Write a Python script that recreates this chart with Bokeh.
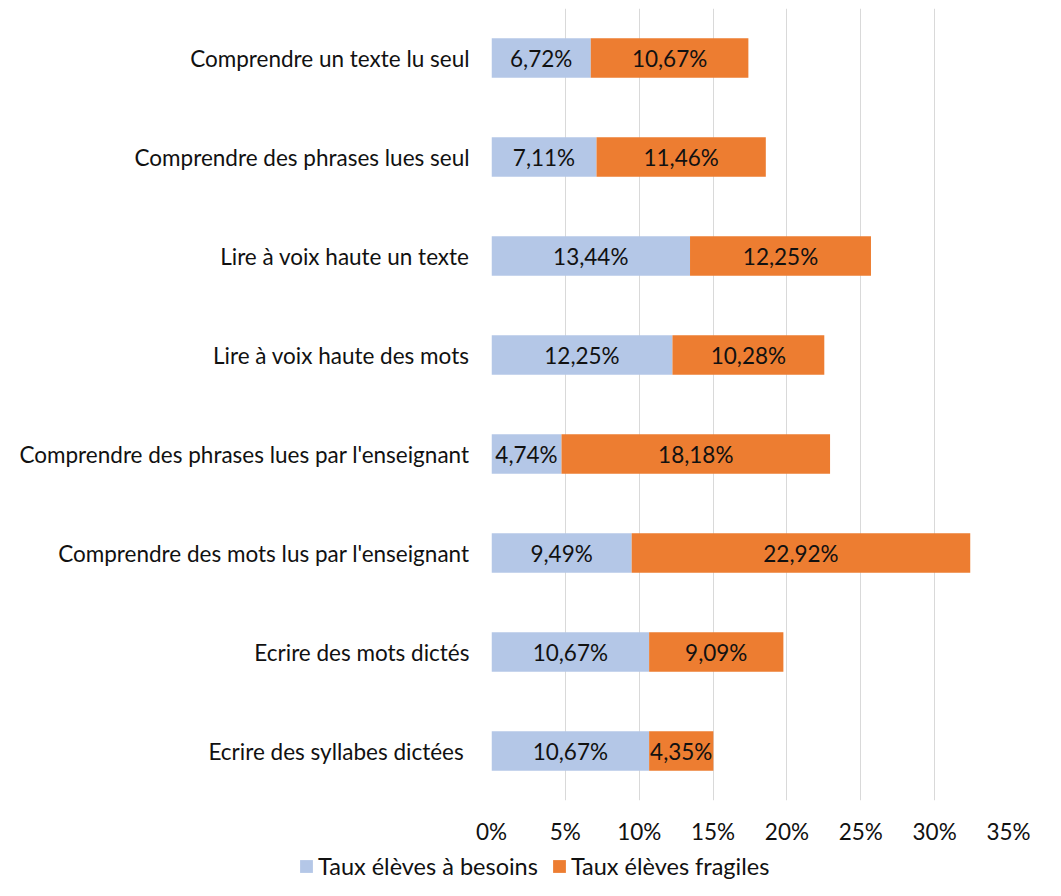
from bokeh.plotting import figure
from bokeh.layouts import column
from bokeh.models import (ColumnDataSource, FactorRange, Range1d, FixedTicker,
                          PrintfTickFormatter, LabelSet, Legend, LegendItem)
from bokeh.core.properties import value
from bokeh.embed import file_html
from bokeh.resources import INLINE

# ---- data (top to bottom as shown) ----
categories = [
    "Comprendre un texte lu seul",
    "Comprendre des phrases lues seul",
    "Lire à voix haute un texte",
    "Lire à voix haute des mots",
    "Comprendre des phrases lues par l'enseignant",
    "Comprendre des mots lus par l'enseignant",
    "Ecrire des mots dictés",
    "Ecrire des syllabes dictées ",
]
besoins = [6.72, 7.11, 13.44, 12.25, 4.74, 9.49, 10.67, 10.67]
fragiles = [10.67, 11.46, 12.25, 10.28, 18.18, 22.92, 9.09, 4.35]
tick_values = [0, 5, 10, 15, 20, 25, 30, 35]
series_names = ["Taux élèves à besoins", "Taux élèves fragiles"]

FONT = "Lato"
FS = "22.5px"
LFS = "23.5px"
TXT = "#111111"
BLUE = "#B4C7E7"
ORANGE = "#ED7D31"
W = 1045

def fmt(v):
    return ("%.2f" % v).replace(".", ",") + "%"

totals = [a + b for a, b in zip(besoins, fragiles)]
src = ColumnDataSource(dict(
    cat=categories,
    b=besoins,
    f=fragiles,
    total=totals,
    b_mid=[a / 2 for a in besoins],
    f_mid=[a + b / 2 for a, b in zip(besoins, fragiles)],
    b_lab=[fmt(v) for v in besoins],
    f_lab=[fmt(v) for v in fragiles],
))

p = figure(width=W, height=852,
           y_range=FactorRange(factors=categories[::-1]),
           x_range=Range1d(0, 35),
           output_backend="svg", toolbar_location=None,
           min_border_left=491, min_border_right=37,
           min_border_top=8, min_border_bottom=52)
p.outline_line_color = None

r1 = p.hbar(y="cat", left=0, right="b", height=0.4, source=src,
            fill_color=BLUE, line_color=None)
r2 = p.hbar(y="cat", left="b", right="total", height=0.4, source=src,
            fill_color=ORANGE, line_color=None)

for xcol, tcol in (("b_mid", "b_lab"), ("f_mid", "f_lab")):
    p.add_layout(LabelSet(x=xcol, y="cat", text=tcol, source=src,
                          text_align="center", text_baseline="middle",
                          text_font=value(FONT), text_font_size=value(FS),
                          text_color=TXT))

ticker = FixedTicker(ticks=tick_values)
p.xaxis.ticker = ticker
p.xaxis.formatter = PrintfTickFormatter(format="%d%%")
p.xaxis.axis_line_color = None
p.xaxis.major_tick_line_color = None
p.xaxis.minor_tick_line_color = None
p.xaxis.major_tick_out = 0
p.xaxis.major_tick_in = 0
p.xaxis.major_label_standoff = 17
p.xaxis.major_label_text_font = FONT
p.xaxis.major_label_text_font_size = FS
p.xaxis.major_label_text_color = TXT

p.yaxis.axis_line_color = None
p.yaxis.major_tick_line_color = None
p.yaxis.major_tick_out = 0
p.yaxis.major_tick_in = 0
p.yaxis.major_label_standoff = 22
p.yaxis.major_label_text_font = FONT
p.yaxis.major_label_text_font_size = FS
p.yaxis.major_label_text_color = TXT

p.xgrid.ticker = ticker
p.xgrid.grid_line_color = "#D9D9D9"
p.xgrid.grid_line_width = 1
p.ygrid.grid_line_color = None

# ---- legend strip below the chart ----
# swatch renderers reuse the series data but sit outside this strip's view
lg = figure(width=W, height=28, x_range=Range1d(0, 1), y_range=Range1d(0, 1),
            output_backend="svg", toolbar_location=None,
            x_axis_location=None, y_axis_location=None,
            min_border=0)
lg.frame_align = False
lg.outline_line_color = None
lg.grid.visible = False
l1 = lg.hbar(y=-10, left=0, right="b", height=0.4, source=src,
             fill_color=BLUE, line_color=None)
l2 = lg.hbar(y=-10, left="b", right="total", height=0.4, source=src,
             fill_color=ORANGE, line_color=None)
legend = Legend(items=[LegendItem(label=series_names[0], renderers=[l1]),
                       LegendItem(label=series_names[1], renderers=[l2])],
                orientation="horizontal", location=(298, 0),
                glyph_width=16, glyph_height=16, label_standoff=4,
                spacing=13, padding=0, margin=0,
                border_line_color=None, background_fill_alpha=0,
                label_text_font=FONT, label_text_font_size=LFS,
                label_text_color=TXT)
lg.add_layout(legend)

layout = column(p, lg, spacing=0)
open("out.html", "w").write(file_html(layout, INLINE))
